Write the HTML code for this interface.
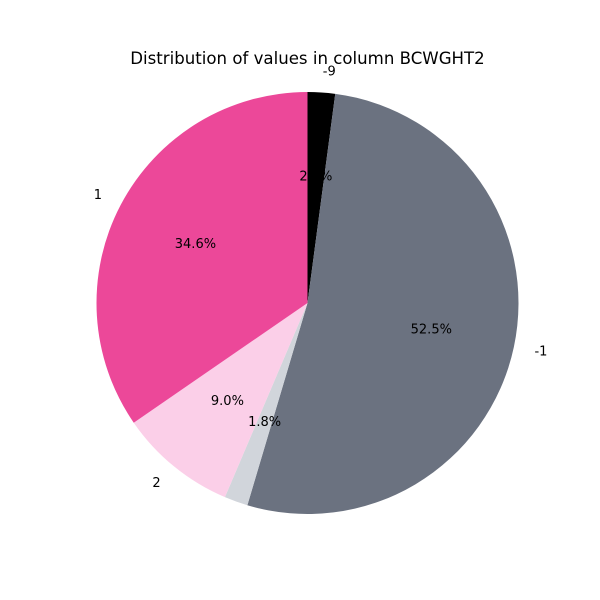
<!DOCTYPE html>
<html><head><meta charset="utf-8"><style>
body{margin:0;background:#fff;}
svg{display:block;font-family:"DejaVu Sans","Liberation Sans",sans-serif;}
</style></head><body>
<svg id="chart" width="600" height="600">
<text x="307.5" y="64" text-anchor="middle" font-size="16.6">Distribution of values in column BCWGHT2</text>
<g id="slices"></g><g id="labels"></g>
</svg>
<script>
const categories = ["-9", "-1", "", "2", "1"];
const shares = [2.1, 52.5, 1.8, 9.0, 34.6];
const pctLabels = ["2.1%", "52.5%", "1.8%", "9.0%", "34.6%"];
const colors = ["#000000", "#6b7280", "#d1d5db", "#fbcfe8", "#ec4899"];
const cx = 307.5, cy = 303, r = 211;
const total = shares.reduce((a, b) => a + b, 0);
const sg = document.getElementById('slices'), lg = document.getElementById('labels');
const NS = 'http://www.w3.org/2000/svg';
function pt(angDeg, rad) { const a = angDeg * Math.PI / 180; return [cx + rad * Math.cos(a), cy - rad * Math.sin(a)]; }
let start = 90;
shares.forEach((v, i) => {
  const sweep = v / total * 360;
  const end = start - sweep;
  const [x1, y1] = pt(start, r), [x2, y2] = pt(end, r);
  const p = document.createElementNS(NS, 'path');
  p.setAttribute('d', `M${cx},${cy} L${x1},${y1} A${r},${r} 0 ${sweep > 180 ? 1 : 0} 1 ${x2},${y2} Z`);
  p.setAttribute('fill', colors[i]);
  
  
  sg.appendChild(p);
  const mid = start - sweep / 2;
  if (categories[i] !== "") {
    const [lx, ly] = pt(mid, r * 1.1);
    const t = document.createElementNS(NS, 'text');
    const c = Math.cos(mid * Math.PI / 180);
    t.setAttribute('x', lx); t.setAttribute('y', ly + 4);
    t.setAttribute('text-anchor', c > 0.01 ? 'start' : (c < -0.01 ? 'end' : 'middle'));
    t.setAttribute('font-size', '13');
    t.textContent = categories[i];
    
    
    lg.appendChild(t);
  }
  const [px, py] = pt(mid, r * 0.6);
  const t2 = document.createElementNS(NS, 'text');
  t2.setAttribute('x', px); t2.setAttribute('y', py + 4);
  t2.setAttribute('text-anchor', 'middle'); t2.setAttribute('font-size', '13');
  t2.textContent = pctLabels[i];
  
  
  lg.appendChild(t2);
  start = end;
});
</script>
</body></html>
